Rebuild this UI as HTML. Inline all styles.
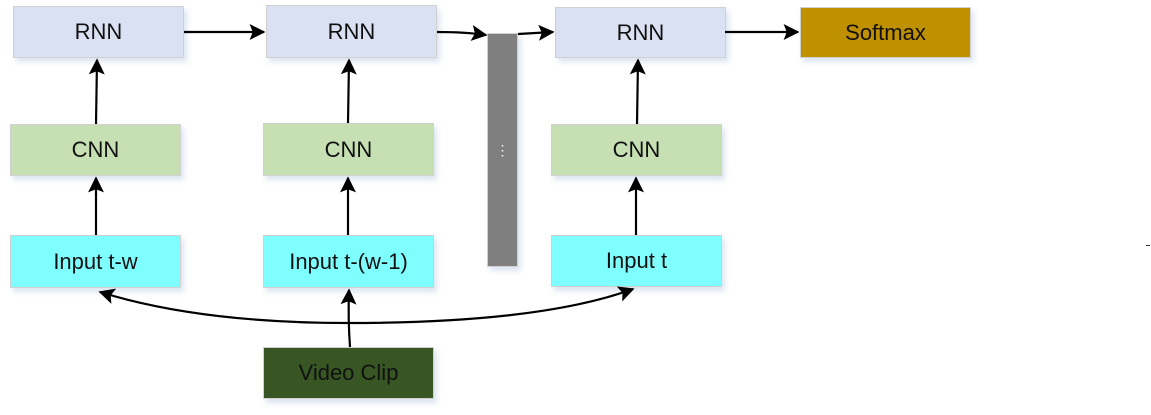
<!DOCTYPE html>
<html><head><style>
body{margin:0;width:1151px;height:415px;background:#fff;overflow:hidden;position:relative;font-family:"Liberation Sans",sans-serif}
.b{position:absolute;box-sizing:border-box;border:1px solid #d0d0d0;display:flex;align-items:center;justify-content:center;font-size:22px;color:#111;box-shadow:3px 4px 5px rgba(120,150,200,0.25)}
.r{background:#dae1f2}.c{background:#c6e0b4}.i{background:#7ffeff}
</style></head><body>
<div class="b r" style="left:13px;top:6px;width:171px;height:52px">RNN</div>
<div class="b r" style="left:266px;top:5px;width:171px;height:53px">RNN</div>
<div class="b r" style="left:555px;top:7px;width:171px;height:51px">RNN</div>
<div class="b" style="left:800px;top:7px;width:171px;height:51px;background:#bf9000">Softmax</div>
<div class="b c" style="left:10px;top:124px;width:171px;height:52px">CNN</div>
<div class="b c" style="left:263px;top:123px;width:171px;height:53px">CNN</div>
<div class="b c" style="left:551px;top:124px;width:171px;height:52px">CNN</div>
<div class="b i" style="left:10px;top:235px;width:171px;height:53px">Input t-w</div>
<div class="b i" style="left:263px;top:235px;width:171px;height:53px">Input t-(w-1)</div>
<div class="b i" style="left:551px;top:235px;width:171px;height:52px">Input t</div>
<div class="b" style="left:263px;top:347px;width:171px;height:52px;background:#375623">Video Clip</div>
<div class="b" style="left:487px;top:33px;width:31px;height:234px;background:#7f7f7f;color:#fff;font-size:14px">⋮</div>
<div style="position:absolute;left:1146px;top:245px;width:4px;height:1px;background:#333"></div>
<svg width="1151" height="415" style="position:absolute;left:0;top:0">
<defs>
<marker id="m" viewBox="0 0 10 10" markerWidth="16" markerHeight="16" refX="9" refY="5" orient="auto" markerUnits="userSpaceOnUse"><path d="M0,0 L10,5 L0,10 L2,5 Z" fill="#000"/></marker></defs>
<g stroke="#000" stroke-width="2.2" fill="none">
<path d="M184,32 L264,32" marker-end="url(#m)"/>
<path d="M437,32 Q465,32 486,35" marker-end="url(#m)"/>
<path d="M518,34 L553,32" marker-end="url(#m)"/>
<path d="M725,32 L798,32" marker-end="url(#m)"/>
<path d="M96,124 L97,60" marker-end="url(#m)"/>
<path d="M348,123 L349,60" marker-end="url(#m)"/>
<path d="M637,124 L638,60" marker-end="url(#m)"/>
<path d="M96,235 L96,178" marker-end="url(#m)"/>
<path d="M348,235 L348,178" marker-end="url(#m)"/>
<path d="M636,235 L636,178" marker-end="url(#m)"/>
<path d="M350,347 Q348,320 349,290" marker-end="url(#m)"/>
<path d="M349,323 Q200,323 100,292" marker-end="url(#m)"/>
<path d="M349,323 Q540,323 633,289" marker-end="url(#m)"/>
</g></svg>
</body></html>
